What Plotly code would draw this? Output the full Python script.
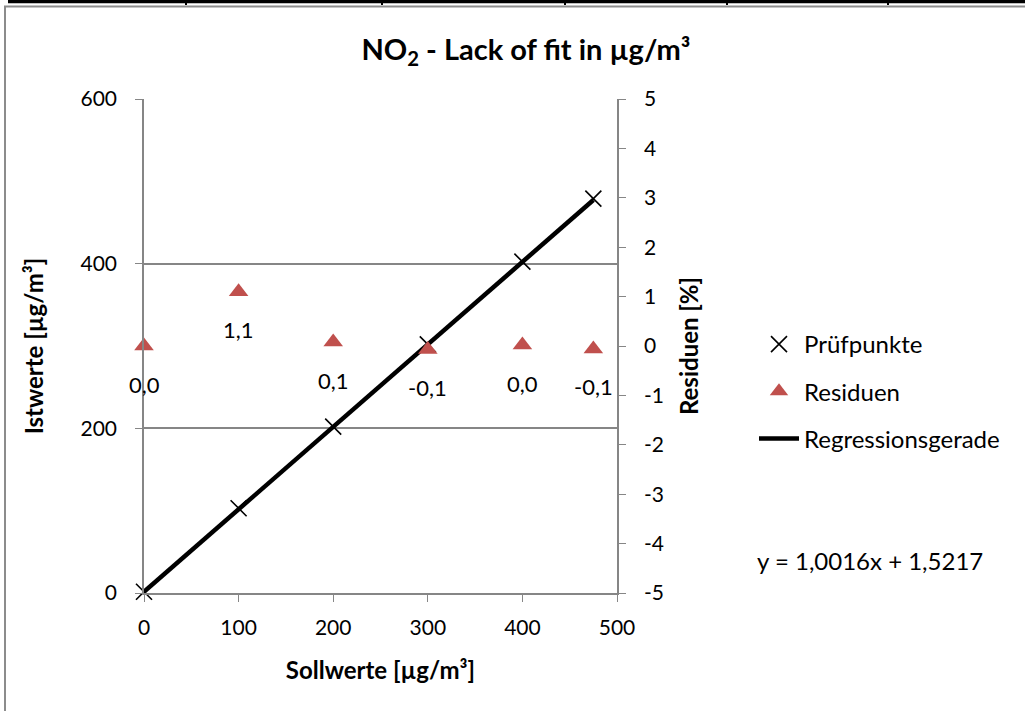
import plotly.graph_objects as go

# ---- data ----
soll = [0, 100, 200, 300, 400, 475]
ist = [1.5, 103.0, 202.0, 302.0, 402.5, 479.0]
residuen = [0.0, 1.1, 0.08, -0.07, 0.02, -0.06]
slope = 1.0016
intercept = 1.5217
x_ticks = [0, 100, 200, 300, 400, 500]
y_ticks = [0, 200, 400, 600]
y2_ticks = [5, 4, 3, 2, 1, 0, -1, -2, -3, -4, -5]

W, H = 1025, 711
L, R, T, B = 144, 617, 99, 593

def px(x):
    return (x - L) / (R - L)

def py(y):
    return (B - y) / (B - T)

FONT = "Lato"
GRID = "#868686"

reg_x = [min(soll), max(soll)]
reg_y = [slope * v + intercept for v in reg_x]

fig = go.Figure()
fig.add_trace(go.Scatter(
    x=reg_x, y=reg_y, mode="lines", name="Regressionsgerade", cliponaxis=False,
    line=dict(color="black", width=4.5), legendgroup="c", legendrank=3))
fig.add_trace(go.Scatter(
    x=soll, y=ist, mode="markers", name="Prüfpunkte", cliponaxis=False,
    marker=dict(symbol="x-thin", size=16, line=dict(color="black", width=1.6)),
    legendgroup="a", legendrank=1))
fig.add_trace(go.Scatter(
    x=soll, y=residuen, mode="markers", name="Residuen", yaxis="y2", cliponaxis=False,
    marker=dict(symbol="triangle-up", size=17, color="#c0504d"),
    legendgroup="b", legendrank=2))

annotations = []
for xv, rv in zip(soll, residuen):
    annotations.append(dict(
        x=xv, y=rv, xref="x", yref="y2", text=f"{rv:.1f}".replace(".", ","),
        showarrow=False, yshift=-38, font=dict(family=FONT, size=22, color="black")))
annotations.append(dict(
    x=px(870), y=py(560), xref="paper", yref="paper", xanchor="center", yanchor="middle",
    text=f"y = {slope:.4f}x + {intercept:.4f}".replace(".", ","),
    showarrow=False, font=dict(family=FONT, size=24, color="black")))

shapes = [
    # chart border
    dict(type="rect", xref="paper", yref="paper", x0=px(5), x1=px(1030), y0=py(716), y1=py(6.5),
         line=dict(color="#8c8c8c", width=2), fillcolor="rgba(0,0,0,0)", layer="below"),
    # table line at top
    dict(type="line", xref="paper", yref="paper", x0=px(8), x1=px(1025), y0=py(1.5), y1=py(1.5),
         line=dict(color="black", width=3.5)),
]
for sx in [186, 382, 565, 727, 888]:
    shapes.append(dict(type="line", xref="paper", yref="paper", x0=px(sx), x1=px(sx),
                       y0=py(0), y1=py(5), line=dict(color="black", width=2)))

tickfont = dict(family=FONT, size=21, color="black")
titlefont = dict(family=FONT, size=24, color="black", weight="bold")

fig.update_layout(
    width=W, height=H,
    margin=dict(l=L, r=W - R, t=T, b=H - B),
    paper_bgcolor="white", plot_bgcolor="white",
    title=dict(text="NO<sub>2</sub> - Lack of fit in µg/m³", x=px(526), xref="paper",
               xanchor="center", y=1 - 50 / H, yanchor="middle",
               font=dict(family=FONT, size=29, color="black", weight="bold")),
    xaxis=dict(range=[0, 500], tickvals=x_ticks, showgrid=False, zeroline=False,
               showline=True, linecolor=GRID, linewidth=1.5, ticks="outside",
               ticklen=7, tickcolor=GRID, tickfont=tickfont, ticklabelstandoff=8,
               title=dict(text="Sollwerte [µg/m³]", font=titlefont, standoff=24)),
    yaxis=dict(range=[0, 600], tickvals=y_ticks, showgrid=True, gridcolor=GRID,
               gridwidth=1.5, zeroline=False, showline=True, linecolor=GRID,
               linewidth=1.5, ticks="outside", ticklen=7, tickcolor=GRID,
               tickfont=tickfont, ticklabelstandoff=14,
               title=dict(text="Istwerte [µg/m³]", font=titlefont, standoff=30)),
    yaxis2=dict(range=[-5, 5], tickvals=y2_ticks, ticktext=[str(v) for v in y2_ticks],
                overlaying="y", side="right",
                showgrid=False, zeroline=False, showline=True, linecolor=GRID,
                linewidth=1.5, ticks="outside", ticklen=7, tickcolor=GRID,
                tickfont=tickfont, ticklabelstandoff=14,
                title=dict(text="Residuen [%]", font=titlefont, standoff=18)),
    legend=dict(x=px(754), y=py(322), xanchor="left", yanchor="top",
                traceorder="grouped", tracegroupgap=13,
                font=dict(family=FONT, size=24, color="black"),
                bgcolor="rgba(0,0,0,0)", itemwidth=40),
    annotations=annotations,
    shapes=shapes,
)

fig.write_html("out.html")
